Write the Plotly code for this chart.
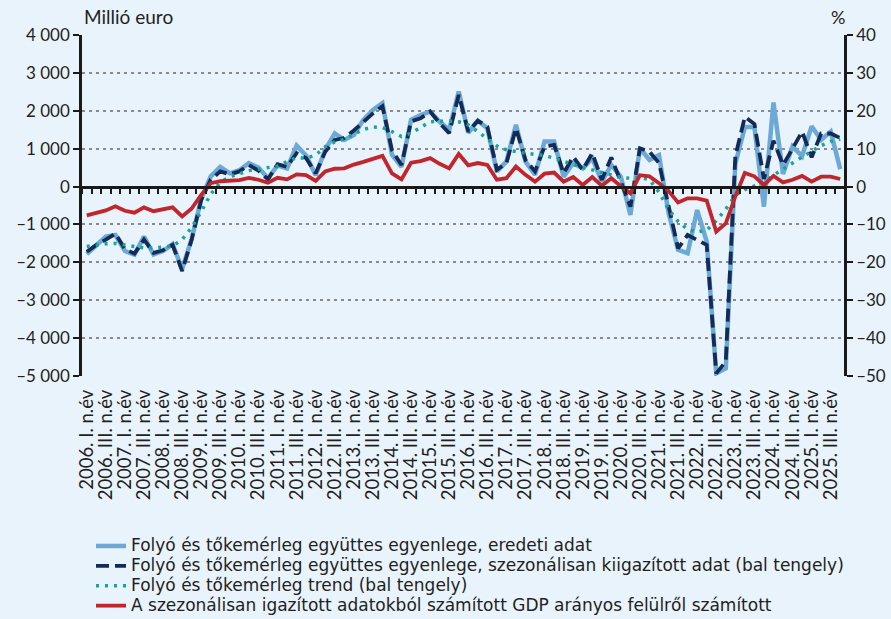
import plotly.graph_objects as go

years = list(range(2006, 2026))
quarter_names = ["I", "II", "III", "IV"]
quarters = [f"{y}. {q}. n.év" for y in years for q in quarter_names]

original = [
    -1780, -1560, -1320, -1280, -1700, -1800, -1320, -1790, -1700, -1520,
    -2180, -1380, -330, 270, 520, 350, 430, 620, 500, 220,
    560, 480, 1080, 820, 300, 970, 1400, 1230, 1360, 1760,
    2020, 2200, 840, 520, 1760, 1890, 1980, 1710, 1500, 2510,
    1420, 1740, 1540, 400, 660, 1630, 660, 310, 1190, 1190,
    260, 620, 480, 750, 130, 570, 260, -750, 1010, 700,
    830, -700, -1670, -1760, -620, -1450, -4930, -4800, 600, 1570,
    1570, -530, 2220, 330, 1060, 800, 1590, 1230, 1450, 460,
]
seasonal = [
    -1720, -1540, -1400, -1240, -1650, -1770, -1400, -1750, -1680, -1540,
    -2230, -1400, -350, 180, 400, 320, 400, 570, 420, 190,
    590, 520, 880, 750, 350, 920, 1230, 1280, 1480, 1710,
    1930, 2120, 960, 570, 1720, 1800, 1980, 1670, 1410, 2420,
    1450, 1740, 1580, 440, 620, 1540, 700, 400, 1060, 1100,
    350, 790, 440, 880, 180, 770, 130, -530, 1010, 920,
    620, -530, -1630, -1280, -1410, -1540, -4930, -4620, 800, 1840,
    1650, 200, 1210, 570, 1000, 1450, 770, 1400, 1400, 1280,
]
trend = [
    -1580, -1540, -1510, -1500, -1540, -1600, -1620, -1620, -1600, -1570,
    -1400, -1080, -660, -200, 110, 260, 340, 420, 460, 500,
    540, 660, 760, 750, 830, 1050, 1180, 1250, 1390, 1510,
    1570, 1560, 1450, 1320, 1410, 1570, 1710, 1720, 1730, 1710,
    1630, 1450, 1250, 1070, 970, 920, 880, 850, 820, 750,
    660, 570, 500, 440, 370, 300, 240, 220, 250, 180,
    -150, -600, -920, -1130, -1200, -1150, -900, -600, -230, -80,
    20, 110, 300, 470, 620, 780, 920, 1080, 1190, 1250,
]
gdp_ratio = [
    -7.6, -6.9, -6.3, -5.2, -6.4, -6.9, -5.5, -6.5, -6.0, -5.5,
    -7.9, -5.8, -2.2, 0.9, 1.4, 1.5, 1.7, 2.3, 1.8, 1.0,
    2.3, 1.9, 3.2, 3.0, 1.5, 4.0, 4.7, 4.8, 5.8, 6.5,
    7.2, 8.1, 3.5, 1.9, 6.3, 6.7, 7.5, 6.0, 4.8, 8.6,
    5.6, 6.2, 5.7, 1.8, 2.2, 5.3, 3.1, 1.3, 3.4, 3.7,
    1.3, 2.5, 0.4, 2.5, 0.2, 2.2, 0.1, -1.8, 3.0, 2.7,
    0.9, -1.2, -4.2, -3.1, -3.1, -3.7, -11.9, -9.7, -2.6, 3.6,
    2.7, 0.4, 2.8, 1.1, 1.8, 2.8, 1.3, 2.6, 2.6, 2.0,
]

left_ticks = [4000, 3000, 2000, 1000, 0, -1000, -2000, -3000, -4000, -5000]
left_tick_text = ["4 000", "3 000", "2 000", "1 000", "0", "–1 000", "–2 000", "–3 000", "–4 000", "–5 000"]
right_ticks = [40, 30, 20, 10, 0, -10, -20, -30, -40, -50]
right_tick_text = ["40", "30", "20", "10", "0", "–10", "–20", "–30", "–40", "–50"]

names = [
    "Folyó és tőkemérleg együttes egyenlege, eredeti adat",
    "Folyó és tőkemérleg együttes egyenlege, szezonálisan kiigazított adat (bal tengely)",
    "Folyó és tőkemérleg trend (bal tengely)",
    "A szezonálisan igazított adatokból számított GDP arányos felülről számított",
]

FONT = "Lato"
LEG_FONT = "DejaVu Sans"
TXT = "#231f20"
BG = "#E9F3FB"
AX = "#1a1a1a"
PLOT_W = 891 - 82 - 46
PLOT_H = 619 - 35 - 243


def leg(text):
    # legend rows are packed like the reference; the visible text is set larger
    return f'<span style="font-size:17px">{text}</span>'


fig = go.Figure()
fig.add_trace(go.Scatter(x=quarters, y=original, name=leg(names[0]), mode="lines",
                         line=dict(color="#6CA9D6", width=4.5), xaxis="x", yaxis="y"))
fig.add_trace(go.Scatter(x=quarters, y=seasonal, name=leg(names[1]), mode="lines",
                         line=dict(color="#142B57", width=3.8, dash="13px,6px"), xaxis="x", yaxis="y"))
fig.add_trace(go.Scatter(x=quarters, y=trend, name=leg(names[2]), mode="lines",
                         line=dict(color="#17A597", width=3.5, dash="3px,6px"), xaxis="x", yaxis="y"))
fig.add_trace(go.Scatter(x=quarters, y=gdp_ratio, name=leg(names[3]), mode="lines",
                         line=dict(color="#C0262C", width=3.8), xaxis="x2", yaxis="y2"))

fig.update_layout(
    width=891, height=619,
    margin=dict(l=82, r=46, t=35, b=243, autoexpand=False),
    paper_bgcolor=BG, plot_bgcolor=BG,
    font=dict(family=FONT, color=TXT),
    showlegend=True,
    legend=dict(
        x=(91 - 82) / PLOT_W, y=(376 - 531) / PLOT_H, xanchor="left", yanchor="top",
        font=dict(family=LEG_FONT, size=13, color=TXT),
        bgcolor="rgba(0,0,0,0)", tracegroupgap=0, itemwidth=30,
    ),
    xaxis=dict(
        type="category", categoryorder="array", categoryarray=quarters,
        range=[-0.5, len(quarters) - 0.5],
        tickmode="array", tickvals=quarters[::2], ticktext=quarters[::2],
        tickangle=-90, tickfont=dict(family=FONT, size=18.5, color=TXT),
        ticklabelstandoff=9,
        showgrid=False, showline=False, zeroline=False, ticks="",
    ),
    xaxis2=dict(
        type="category", overlaying="x", matches="x", anchor="free",
        position=5000 / 9000, side="bottom",
        showticklabels=False, ticks="outside", tickson="boundaries",
        tickmode="linear", tick0=0, dtick=1,
        ticklen=6, tickwidth=2, tickcolor=AX,
        showline=True, linecolor=AX, linewidth=2.5,
        showgrid=False, zeroline=False,
    ),
    yaxis=dict(
        range=[-5000, 4000], tickmode="array", tickvals=left_ticks, ticktext=left_tick_text,
        tickfont=dict(family=FONT, size=17, color=TXT),
        showgrid=True, gridcolor="#8a8a8a", gridwidth=1.5, griddash="3px,4px",
        zeroline=False, showline=True, linecolor=AX, linewidth=2.5,
        ticks="outside", ticklen=6, tickwidth=2, tickcolor=AX,
    ),
    yaxis2=dict(
        range=[-50, 40], tickmode="array", tickvals=right_ticks, ticktext=right_tick_text,
        overlaying="y", side="right", anchor="free", position=1,
        tickfont=dict(family=FONT, size=17, color=TXT),
        showgrid=False, zeroline=False, showline=True, linecolor=AX, linewidth=2.5,
        ticks="outside", ticklen=6, tickwidth=2, tickcolor=AX,
    ),
    annotations=[
        dict(text="Millió euro", xref="paper", yref="paper", x=0, y=1 + 19 / PLOT_H,
             xanchor="left", yanchor="middle", showarrow=False,
             font=dict(family=FONT, size=19, color=TXT)),
        dict(text="%", xref="paper", yref="paper", x=(838 - 82) / PLOT_W, y=1 + 18 / PLOT_H,
             xanchor="center", yanchor="middle", showarrow=False,
             font=dict(family=FONT, size=18, color=TXT)),
    ],
)

fig.write_html("out.html", config={"displayModeBar": False},
               post_script="document.body.style.margin='0px';")
